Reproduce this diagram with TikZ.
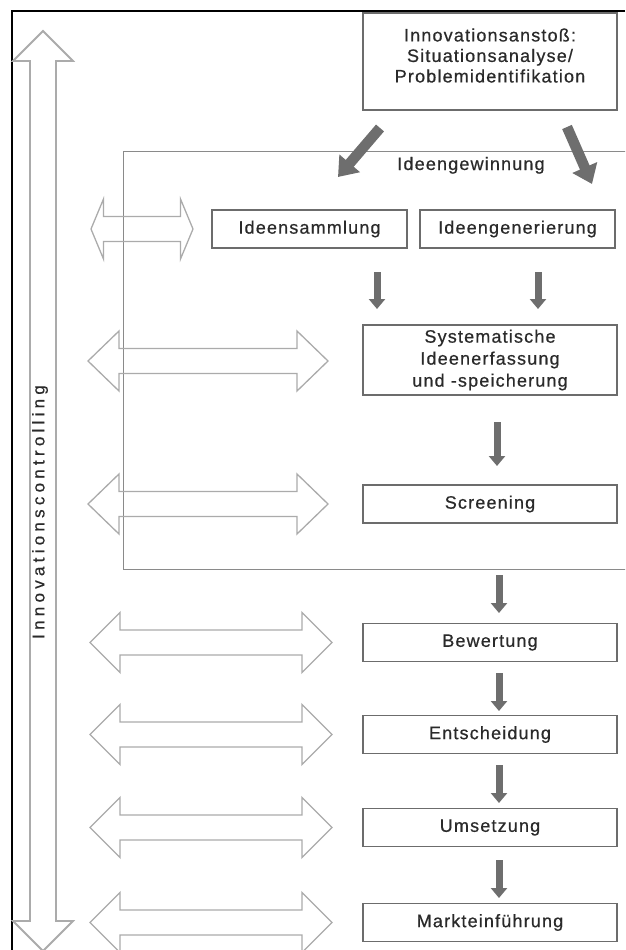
\documentclass[tikz,border=0pt]{standalone}
\usepackage{fontspec}
\setmainfont{Liberation Sans}
\newfontfamily\lblfont{Liberation Sans}[LetterSpace=6.5, FakeBold=0.6]
\newfontfamily\sidefont{Liberation Sans}[LetterSpace=25, FakeBold=0.5]
\usetikzlibrary{arrows.meta}

\definecolor{txt}{HTML}{2A2A2A}
\definecolor{boxgray}{HTML}{6C6C6C}
\definecolor{framegray}{HTML}{8A8A8A}
\definecolor{outline}{HTML}{ABABAB}
\definecolor{fatgray}{HTML}{6E6E6E}

% hollow double-headed arrow: left tip x, right tip x, centre y, head length
\newcommand\twoway[4]{%
  \draw[hollow] (#1,#3) -- (#1+#4,#3-30) -- (#1+#4,#3-12.5) -- (#2-#4,#3-12.5)
    -- (#2-#4,#3-30) -- (#2,#3) -- (#2-#4,#3+30) -- (#2-#4,#3+12.5)
    -- (#1+#4,#3+12.5) -- (#1+#4,#3+30) -- cycle;}

\begin{document}
\begin{tikzpicture}[x=1pt,y=-1pt,
  stage/.style={draw=boxgray, line width=1.5pt, minimum width=254pt,
    minimum height=38pt, inner sep=0pt, text=txt, align=center,
    font=\lblfont\fontsize{18}{22}\selectfont},
  caption/.style={text=txt, inner sep=0pt, align=center,
    font=\lblfont\fontsize{18}{20.5}\selectfont},
  hollow/.style={draw=outline, line width=1.3pt, line join=miter},
  fatarrow/.style={draw=fatgray, line width=10.5pt,
    -{Triangle[width=26pt,length=18pt]}},
  downarrow/.style={draw=fatgray, line width=7pt,
    -{Triangle[width=16pt,length=10pt]}}]

\useasboundingbox (0,0) rectangle (625,950);
\clip (0,0) rectangle (625,950);
\fill[white] (0,0) rectangle (625,950);

% frame lines at top and left
\draw[line width=2.2pt, black] (625,11) -- (12,11) -- (12,950);

% controlling arrow along the left side
\draw[hollow, line width=1.8pt] (43,31) -- (13,61) -- (30,61) -- (30,921)
  -- (13,921) -- (43,951) -- (73,921) -- (56,921) -- (56,61) -- (73,61) -- cycle;
\node[text=txt, inner sep=0pt, rotate=90, font=\sidefont\fontsize{17}{20}\selectfont]
  (controlling) at (40,512) {Innovationscontrolling};

% idea generation frame
\node[draw=framegray, line width=1.4pt, minimum width=530pt, minimum height=418pt,
  inner sep=0pt, anchor=north west] (gewinnung) at (123,151) {};
\node[caption, anchor=base] (gewlabel) at (471,170) {Ideengewinnung};

% trigger box
\node[draw=boxgray, line width=1.5pt, minimum width=254pt, minimum height=97pt,
  inner sep=0pt] (innov) at (490,61.5) {};
\node[caption] (innovtext) at (490,55.5)
  {Innovationsansto\ss:\\Situationsanalyse/\\Problemidentifikation};

% process boxes
\node[stage, minimum width=195pt] (sammlung) at (309.5,229) {Ideensammlung};
\node[stage, minimum width=195pt] (generierung) at (517.5,229) {Ideengenerierung};
\node[stage, minimum height=70pt] (erfassung) at (490,360)
  {Systematische\\Ideenerfassung\\und -speicherung};
\node[stage] (screening) at (490,504) {Screening};
\node[stage] (bewertung) at (490,642.5) {Bewertung};
\node[stage] (entscheidung) at (490,734.5) {Entscheidung};
\node[stage] (umsetzung) at (490,827.5) {Umsetzung};
\node[stage] (markt) at (490,922.5) {Markteinführung};

% hollow double arrows towards the controlling side
\twoway{91}{193}{229}{12.5}
\twoway{88}{328}{361}{31}
\twoway{88}{328}{504}{31}
\twoway{90}{332}{642.5}{30}
\twoway{90}{332}{734.5}{30}
\twoway{90}{332}{827.5}{30}
\twoway{90}{332}{922.5}{30}

% arrow ends
\coordinate (fa1s) at (380,128); \coordinate (fa1e) at (338,177);
\coordinate (fa2s) at (567,127); \coordinate (fa2e) at (592,184);
\coordinate (d1s) at (377,272); \coordinate (d1e) at (377,309);
\coordinate (d2s) at (538,272); \coordinate (d2e) at (538,309);
\coordinate (d3s) at (497,422); \coordinate (d3e) at (497,466);
\coordinate (d4s) at (499,575); \coordinate (d4e) at (499,613);
\coordinate (d5s) at (499,673); \coordinate (d5e) at (499,711);
\coordinate (d6s) at (499,765); \coordinate (d6e) at (499,803);
\coordinate (d7s) at (499,860); \coordinate (d7e) at (499,898);

\draw[fatarrow] (fa1s) -- (fa1e);
\draw[fatarrow] (fa2s) -- (fa2e);
\draw[downarrow] (d1s) -- (d1e);
\draw[downarrow] (d2s) -- (d2e);
\draw[downarrow] (d3s) -- (d3e);
\draw[downarrow] (d4s) -- (d4e);
\draw[downarrow] (d5s) -- (d5e);
\draw[downarrow] (d6s) -- (d6e);
\draw[downarrow] (d7s) -- (d7e);
\end{tikzpicture}
\end{document}
